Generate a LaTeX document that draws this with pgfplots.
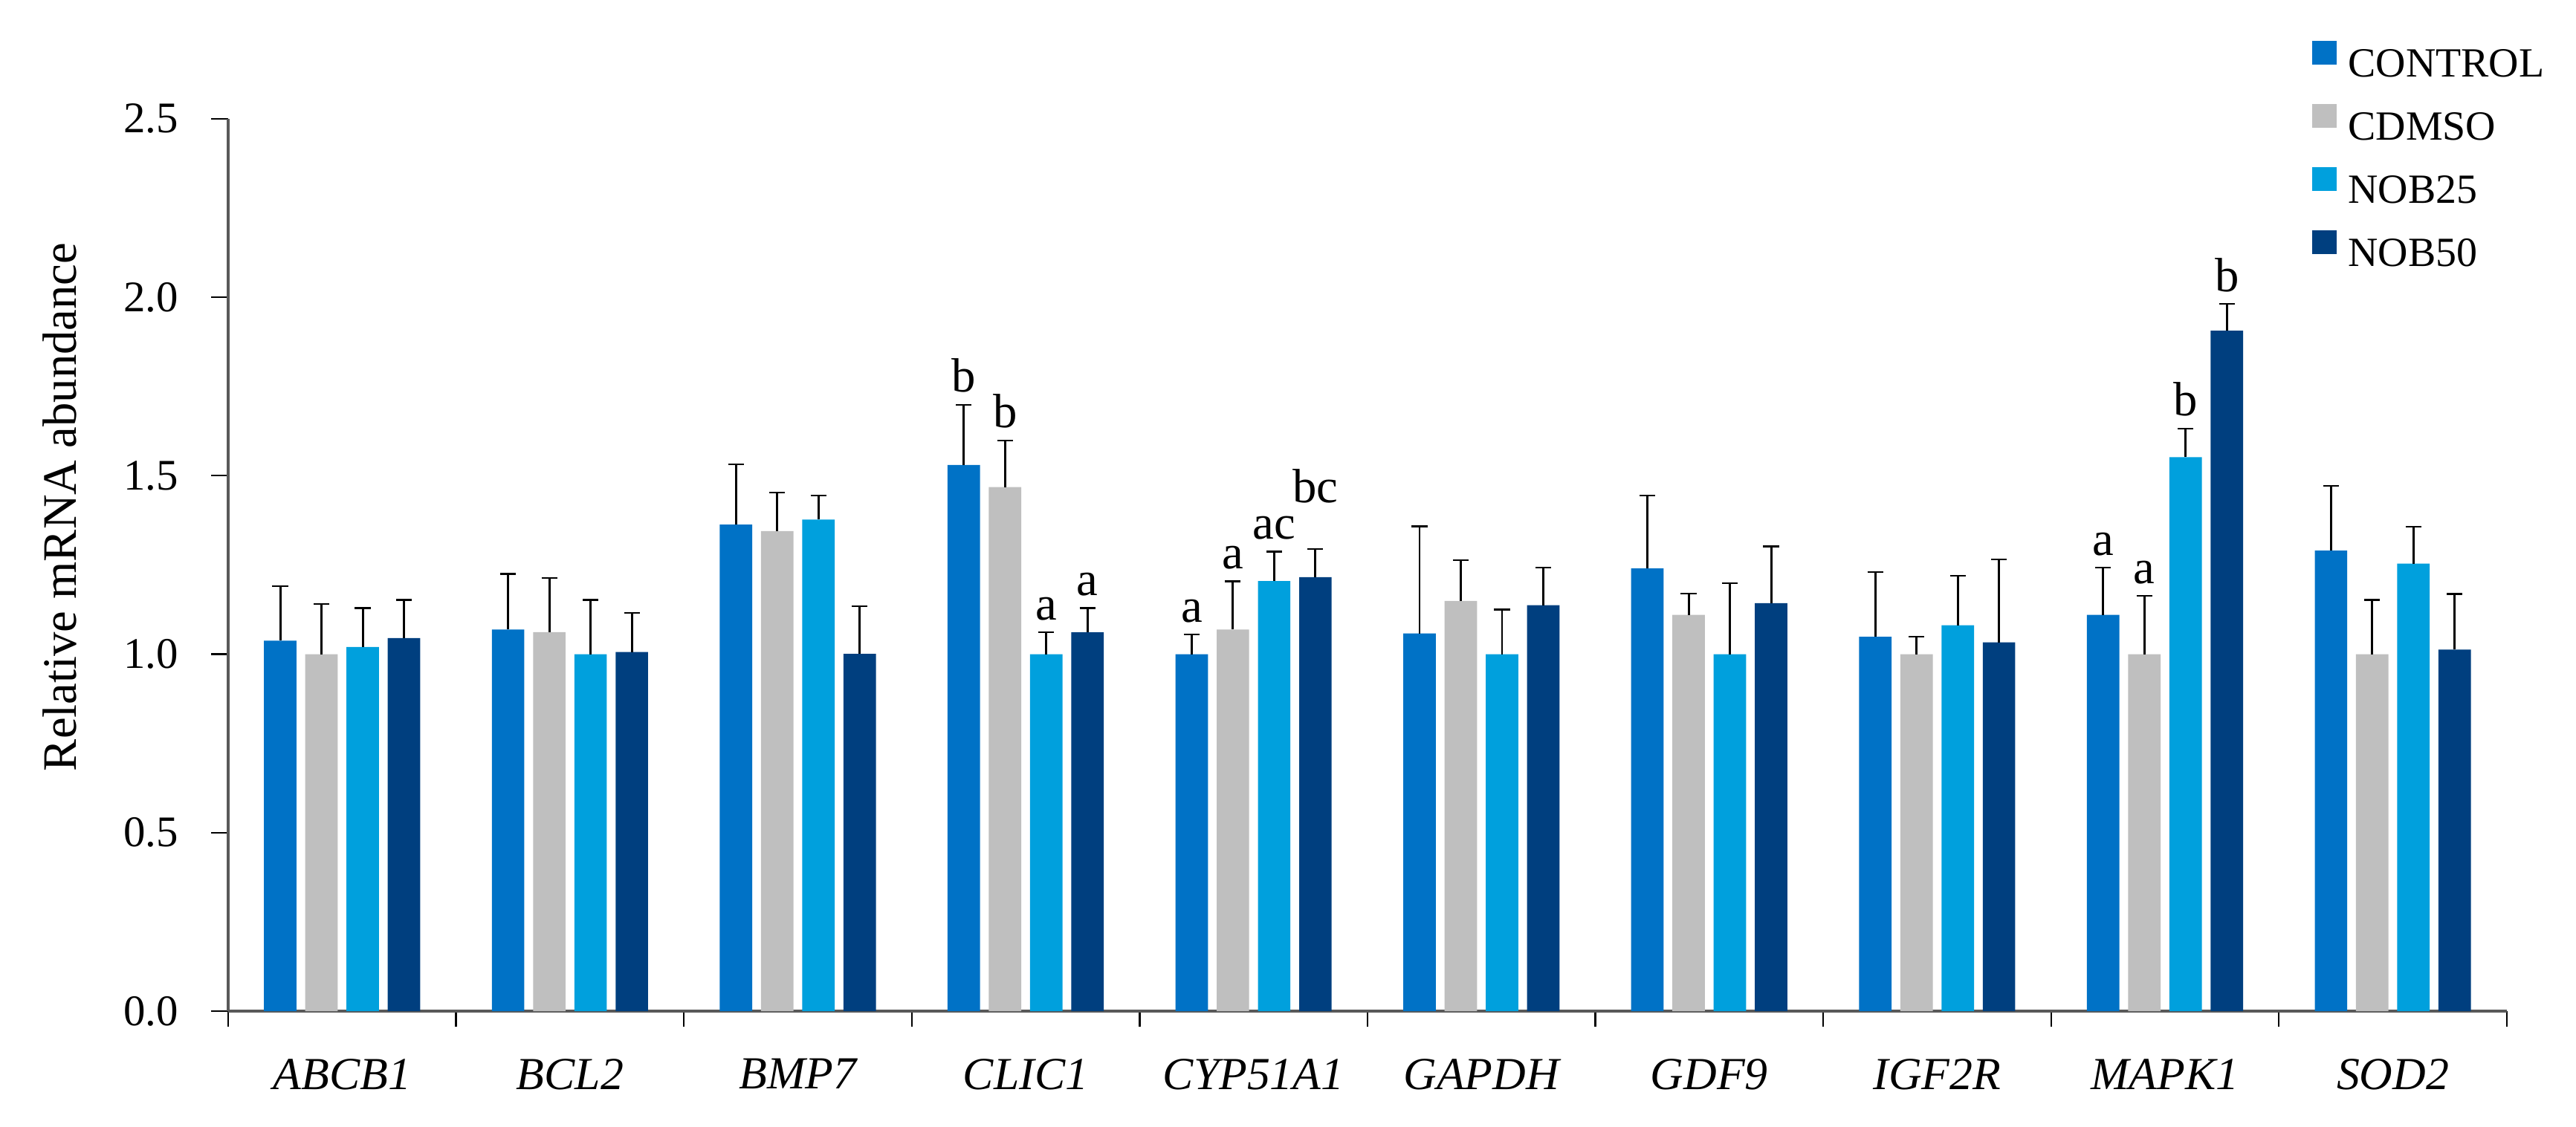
\documentclass[border=0pt]{standalone}
\usepackage{fontspec}
\setmainfont{Liberation Serif}
\usepackage{pgfplots}
\pgfplotsset{compat=1.18}
\usepackage{pgfplotstable}

\definecolor{cctrl}{HTML}{0072C6}
\definecolor{cdmso}{HTML}{BFBFBF}
\definecolor{cnob25}{HTML}{00A0DD}
\definecolor{cnob50}{HTML}{003F7F}

% x = gene index, y = mean, e = SD (upper)
\pgfplotstableread{
x y e
0 1.038 0.153
1 1.069 0.156
2 1.363 0.169
3 1.530 0.169
4 1.000 0.055
5 1.058 0.300
6 1.240 0.204
7 1.049 0.181
8 1.110 0.132
9 1.290 0.181
}\ctrl
\pgfplotstableread{
x y e
0 1.000 0.140
1 1.062 0.151
2 1.345 0.108
3 1.468 0.131
4 1.069 0.135
5 1.149 0.115
6 1.110 0.060
7 1.000 0.049
8 1.000 0.163
9 1.000 0.152
}\cdmso
\pgfplotstableread{
x y e
0 1.020 0.109
1 1.000 0.152
2 1.377 0.068
3 1.000 0.061
4 1.205 0.082
5 1.000 0.125
6 1.000 0.199
7 1.081 0.139
8 1.552 0.080
9 1.254 0.103
}\nobA
\pgfplotstableread{
x y e
0 1.045 0.107
1 1.006 0.110
2 1.001 0.133
3 1.061 0.068
4 1.216 0.078
5 1.137 0.106
6 1.143 0.159
7 1.033 0.232
8 1.906 0.075
9 1.013 0.156
}\nobB
% significance letters, placed where they sit in the figure
\pgfplotstableread{
x y lab
3 1.699 b
4 1.055 a
8 1.242 a
}\labctrl
\pgfplotstableread{
x y lab
3 1.599 b
4 1.204 a
8 1.163 a
}\labcdmso
\pgfplotstableread{
x y lab
3 1.061 a
4 1.287 ac
8 1.632 b
}\labnobA
\pgfplotstableread{
x y lab
3 1.129 a
4 1.389 bc
8 1.981 b
}\labnobB

\pgfplotsset{
  errs/.style={error bars/.cd, y dir=plus, y explicit,
    error bar style={line width=0.5pt, black, mark size=1.8pt}},
  labelplot/.style={draw=none, fill=none, forget plot,
    nodes near coords, point meta=explicit symbolic,
    every node near coord/.append style={font=\fontsize{11}{13}\selectfont, anchor=south, inner sep=2.6pt, black}},
}

\begin{document}
\begin{tikzpicture}
\begin{axis}[
  scale only axis,
  width=521.2pt, height=204.2pt,
  ybar, bar width=0.1425,
  xmin=-0.5, xmax=9.5, ymin=0, ymax=2.5,
  axis x line*=bottom, axis y line*=left,
  axis line style={line width=0.55pt, draw=black!65},
  xtick={0,...,9},
  xticklabels={ABCB1,BCL2,BMP7,CLIC1,CYP51A1,GAPDH,GDF9,IGF2R,MAPK1,SOD2},
  minor xtick={-0.5,0.5,1.5,2.5,3.5,4.5,5.5,6.5,7.5,8.5,9.5},
  ytick={0,0.5,1,1.5,2,2.5},
  tick align=outside,
  major tick length=3.9pt, minor tick length=3.6pt,
  tick style={black, line width=0.4pt},
  major x tick style={draw=none},
  x tick label style={font=\fontsize{10.5}{12}\selectfont\itshape, yshift=-3.5pt},
  y tick label style={font=\fontsize{10}{12}\selectfont, xshift=-4pt},
  /pgf/number format/assume math mode=true,
  yticklabel style={/pgf/number format/.cd, fixed, fixed zerofill, precision=1},
  ylabel={Relative mRNA abundance},
  ylabel style={at={(axis description cs:-0.0740,0.565)}, anchor=center, font=\fontsize{11}{13}\selectfont},
  legend cell align=left,
  legend image code/.code={\path[#1] (0pt,-0.2pt) rectangle (5.6pt,5.1pt);},
  legend style={at={(axis description cs:0.9145,1.087)}, anchor=north west,
    draw=none, fill=none, inner sep=0pt, outer sep=0pt,
    row sep=6.2pt, column sep=2.7pt,
    font=\fontsize{9.5}{11}\selectfont,
    nodes={inner sep=0pt, text height=6.3pt, text depth=0pt}},
]
\coordinate (O) at (rel axis cs:0,0);
\addplot[fill=cctrl, draw=none, bar shift=-0.2715, errs] table[x=x, y=y, y error=e] {\ctrl};
\addplot[fill=cdmso, draw=none, bar shift=-0.0905, errs] table[x=x, y=y, y error=e] {\cdmso};
\addplot[fill=cnob25, draw=none, bar shift=0.0905, errs] table[x=x, y=y, y error=e] {\nobA};
\addplot[fill=cnob50, draw=none, bar shift=0.2715, errs] table[x=x, y=y, y error=e] {\nobB};
\legend{CONTROL,CDMSO,NOB25,NOB50}

\addplot[labelplot, bar shift=-0.2715] table[x=x, y=y, meta=lab] {\labctrl};
\addplot[labelplot, bar shift=-0.0905] table[x=x, y=y, meta=lab] {\labcdmso};
\addplot[labelplot, bar shift=0.0905] table[x=x, y=y, meta=lab] {\labnobA};
\addplot[labelplot, bar shift=0.2715] table[x=x, y=y, meta=lab] {\labnobB};
\end{axis}
\pgfresetboundingbox
\path[use as bounding box] (O) ++(-52.19pt,-26.35pt) rectangle ++(589.22pt,257.72pt);
\end{tikzpicture}
\end{document}
